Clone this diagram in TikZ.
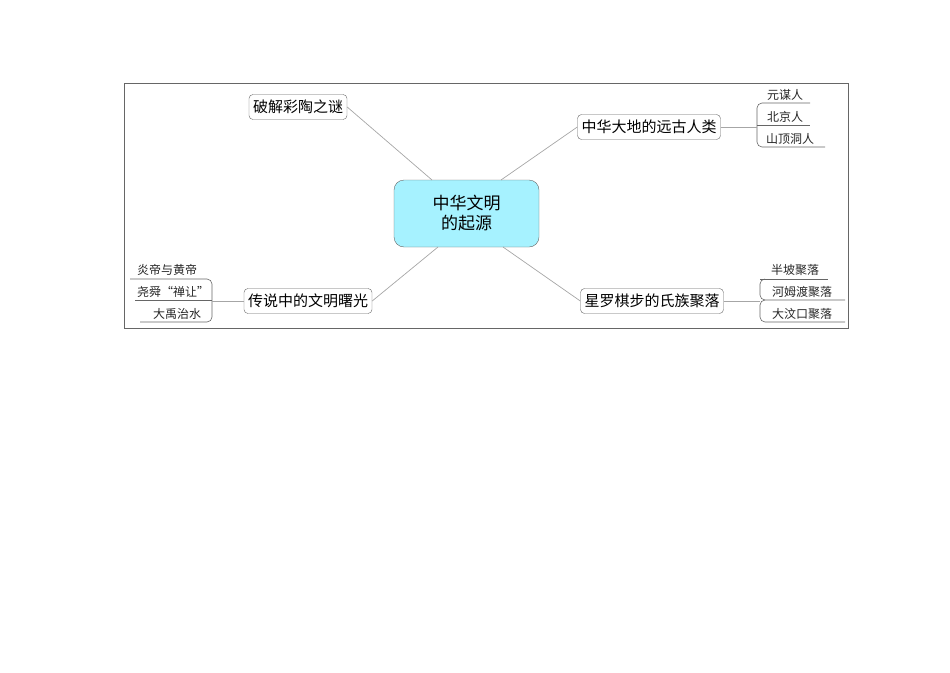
\documentclass[tikz,border=0pt]{standalone}
\usepackage{fontspec}
\setmainfont{Noto Sans CJK SC}
\begin{document}
\begin{tikzpicture}[x=1pt,y=-1pt,
  topic/.style={draw=gray!80!black,rounded corners=4pt,fill=white,font=\fontsize{15}{16}\selectfont,inner xsep=4pt,minimum height=25pt,anchor=center},
  sub/.style={font=\fontsize{12}{13}\selectfont,inner sep=1pt,text=black!85},
  link/.style={draw=gray!70,line width=0.7pt},
  uline/.style={draw=gray!80!black,line width=0.6pt}]
\useasboundingbox (0,0) rectangle (950,672);
\draw[gray!80!black,line width=0.6pt] (124,83) rectangle (848,328);
\node[draw=gray!80!black,rounded corners=10pt,fill=cyan!25!blue!35!white,fill=blue!15!cyan!35,minimum width=145pt,minimum height=67pt,align=center,font=\fontsize{17}{20}\selectfont] (c) at (466.5,213.5) {中华文明\\的起源};
\node[topic] (t1) at (298,107) {破解彩陶之谜};
\node[topic] (t2) at (649,127) {中华大地的远古人类};
\node[topic] (t3) at (308,301) {传说中的文明曙光};
\node[topic] (t4) at (652,301) {星罗棋步的氏族聚落};
\draw[link] (432,180) -- (t1.east);
\draw[link] (501,180) -- (t2.west);
\draw[link] (438,247) -- (t3.east);
\draw[link] (503,247) -- (t4.west);
% right group 1
\node[sub] (a1) at (785,95) {元谋人};
\node[sub] (a2) at (785,117) {北京人};
\node[sub] (a3) at (790,139) {山顶洞人};
\coordinate (a) at (757,127);
\draw[uline] (810,103) -- (762,103) to[out=180,in=90] (757,108) -- (757,142) to[out=-90,in=180] (762,147) -- (825,147);
\draw[uline] (757,125) -- (810,125);
\draw[link] (t2.east) -- (a);
% right group 2
\node[sub] (b1) at (795,270) {半坡聚落};
\node[sub] (b2) at (802,292) {河姆渡聚落};
\node[sub] (b3) at (802,314) {大汶口聚落};
\coordinate (b) at (760,301);
\draw[uline] (760,279) -- (828,279);
\draw[uline] (845,300) -- (765,300) to[out=180,in=90] (760,305) -- (760,317) to[out=-90,in=180] (765,322) -- (845,322);
\draw[uline] (765,300) to[out=180,in=-90] (760,295) -- (760,284) to[out=90,in=180] (765,279);
\draw[link] (t4.east) -- (b);
% left group
\node[sub] (l1) at (167,270) {炎帝与黄帝};
\node[sub] (l2) at (173,292) {尧舜“禅让”};
\node[sub] (l3) at (177,314) {大禹治水};
\coordinate (l) at (212,301);
\draw[uline] (130,279) -- (207,279) to[out=0,in=90] (212,284) -- (212,317) to[out=-90,in=0] (207,322) -- (140,322);
\draw[uline] (135,300) -- (212,300);
\draw[link] (t3.west) -- (l);
\end{tikzpicture}
\end{document}
